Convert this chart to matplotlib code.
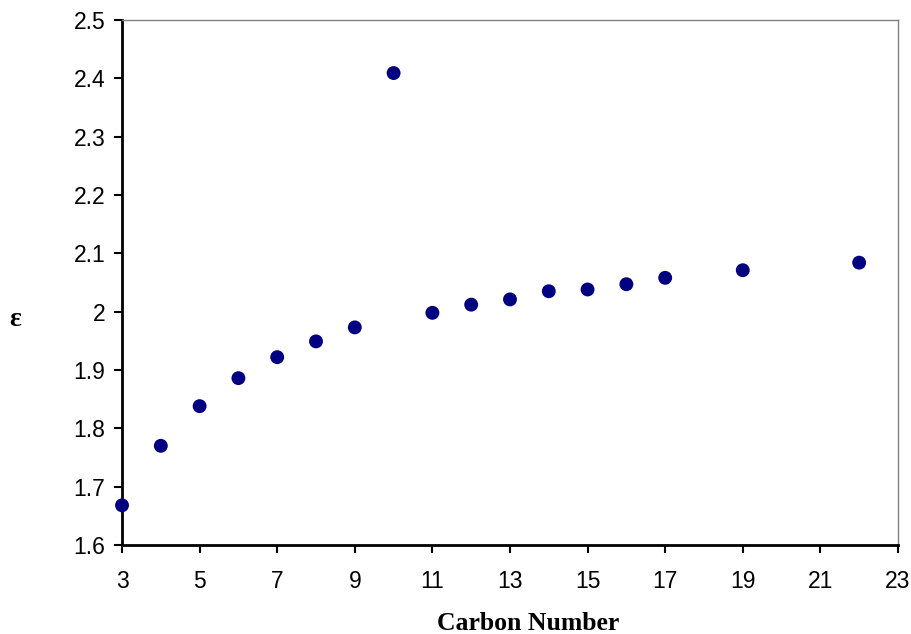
import matplotlib
matplotlib.use("Agg")
import matplotlib.pyplot as plt

carbon_number = [3, 4, 5, 6, 7, 8, 9, 10, 11, 12, 13, 14, 15, 16, 17, 19, 22]
epsilon = [1.668, 1.770, 1.838, 1.886, 1.922, 1.949, 1.973, 2.409, 1.998,
           2.012, 2.021, 2.035, 2.038, 2.047, 2.058, 2.071, 2.084]

x_ticks = [3, 5, 7, 9, 11, 13, 15, 17, 19, 21, 23]
y_ticks = [1.6, 1.7, 1.8, 1.9, 2.0, 2.1, 2.2, 2.3, 2.4, 2.5]
y_tick_labels = ["1.6", "1.7", "1.8", "1.9", "2", "2.1", "2.2", "2.3", "2.4", "2.5"]

fig = plt.figure(figsize=(9.12, 6.34), dpi=100)
ax = fig.add_axes([0.1338, 0.1404, 0.8508, 0.8281])

ax.scatter(carbon_number, epsilon, s=100, color="#000080", edgecolors="none",
           zorder=3, clip_on=False)

ax.set_xlim(3, 23)
ax.set_ylim(1.6, 2.5)
ax.set_xticks(x_ticks)
ax.set_yticks(y_ticks)
ax.set_yticklabels(y_tick_labels)

for side in ("left", "bottom"):
    ax.spines[side].set_color("black")
    ax.spines[side].set_linewidth(2.0)
for side in ("top", "right"):
    ax.spines[side].set_color("#808080")
    ax.spines[side].set_linewidth(1.0)

ax.tick_params(axis="both", direction="out", length=6, width=1.5,
               labelsize=16.5, colors="black")
ax.tick_params(axis="x", pad=12)
ax.tick_params(axis="y", pad=6)
for lbl in ax.get_xticklabels() + ax.get_yticklabels():
    lbl.set_fontfamily("Liberation Sans")

fig.text(528 / 912, 1 - 623 / 634, "Carbon Number", fontsize=18.5,
         fontweight="bold", fontfamily="Liberation Serif",
         ha="center", va="center")
fig.text(15 / 912, 1 - 320 / 634, "ε", fontsize=20, fontweight="bold",
         fontfamily="Liberation Serif", ha="center", va="center")

fig.savefig("out.png", dpi=100)
